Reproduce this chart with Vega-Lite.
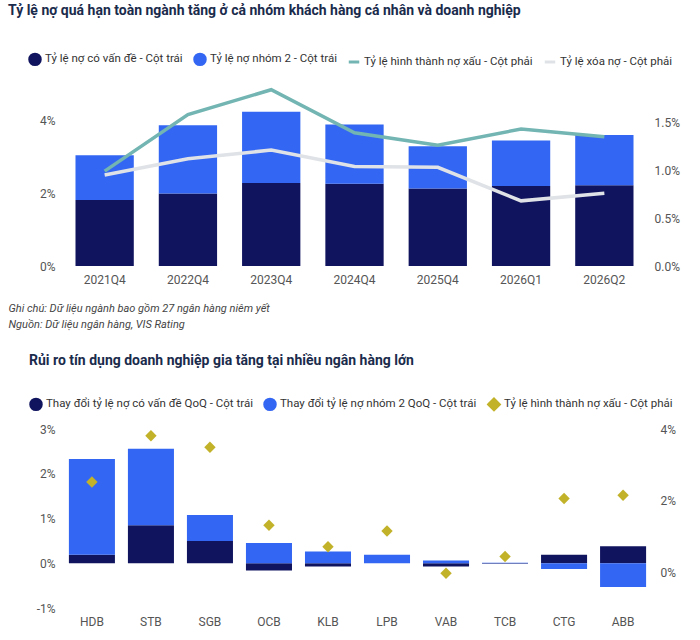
{
  "$schema": "https://vega.github.io/schema/vega-lite/v6.json",
  "background": "white",
  "padding": {"left": 8, "top": 4, "right": 6, "bottom": 4},
  "config": {
    "view": {"stroke": null},
    "font": "Roboto",
    "axis": {"grid": false, "domain": false, "ticks": false, "labelFont": "Roboto", "labelFontSize": 12, "labelColor": "#555", "labelPadding": 8},
    "legend": {"labelFont": "Roboto", "labelFontSize": 11.5, "labelColor": "#333", "labelLimit": 0, "symbolSize": 110, "symbolStrokeWidth": 3, "columnPadding": 5, "labelOffset": 3, "symbolOpacity": 1}
  },
  "spacing": 25,
  "resolve": {"scale": {"color": "independent", "shape": "independent"}, "legend": {"color": "independent", "shape": "independent"}},
  "vconcat": [
    {
      "width": 583, "height": 182,
      "title": {"text": "Tỷ lệ nợ quá hạn toàn ngành tăng ở cả nhóm khách hàng cá nhân và doanh nghiệp", "anchor": "start", "frame": "bounds", "fontSize": 14, "fontWeight": "bold", "color": "#1a2b4c", "offset": 34},
      "data": {"values": [
        {"q": "2021Q4", "s": "Tỷ lệ nợ có vấn đề - Cột trái", "t": "bar", "o": 0, "v": 1.81},
        {"q": "2022Q4", "s": "Tỷ lệ nợ có vấn đề - Cột trái", "t": "bar", "o": 0, "v": 1.99},
        {"q": "2023Q4", "s": "Tỷ lệ nợ có vấn đề - Cột trái", "t": "bar", "o": 0, "v": 2.28},
        {"q": "2024Q4", "s": "Tỷ lệ nợ có vấn đề - Cột trái", "t": "bar", "o": 0, "v": 2.26},
        {"q": "2025Q4", "s": "Tỷ lệ nợ có vấn đề - Cột trái", "t": "bar", "o": 0, "v": 2.13},
        {"q": "2026Q1", "s": "Tỷ lệ nợ có vấn đề - Cột trái", "t": "bar", "o": 0, "v": 2.20},
        {"q": "2026Q2", "s": "Tỷ lệ nợ có vấn đề - Cột trái", "t": "bar", "o": 0, "v": 2.22},
        {"q": "2021Q4", "s": "Tỷ lệ nợ nhóm 2 - Cột trái", "t": "bar", "o": 1, "v": 1.23},
        {"q": "2022Q4", "s": "Tỷ lệ nợ nhóm 2 - Cột trái", "t": "bar", "o": 1, "v": 1.88},
        {"q": "2023Q4", "s": "Tỷ lệ nợ nhóm 2 - Cột trái", "t": "bar", "o": 1, "v": 1.96},
        {"q": "2024Q4", "s": "Tỷ lệ nợ nhóm 2 - Cột trái", "t": "bar", "o": 1, "v": 1.63},
        {"q": "2025Q4", "s": "Tỷ lệ nợ nhóm 2 - Cột trái", "t": "bar", "o": 1, "v": 1.16},
        {"q": "2026Q1", "s": "Tỷ lệ nợ nhóm 2 - Cột trái", "t": "bar", "o": 1, "v": 1.25},
        {"q": "2026Q2", "s": "Tỷ lệ nợ nhóm 2 - Cột trái", "t": "bar", "o": 1, "v": 1.38},
        {"q": "2021Q4", "s": "Tỷ lệ hình thành nợ xấu - Cột phải", "t": "line", "o": 2, "v": 0.99},
        {"q": "2022Q4", "s": "Tỷ lệ hình thành nợ xấu - Cột phải", "t": "line", "o": 2, "v": 1.58},
        {"q": "2023Q4", "s": "Tỷ lệ hình thành nợ xấu - Cột phải", "t": "line", "o": 2, "v": 1.84},
        {"q": "2024Q4", "s": "Tỷ lệ hình thành nợ xấu - Cột phải", "t": "line", "o": 2, "v": 1.39},
        {"q": "2025Q4", "s": "Tỷ lệ hình thành nợ xấu - Cột phải", "t": "line", "o": 2, "v": 1.26},
        {"q": "2026Q1", "s": "Tỷ lệ hình thành nợ xấu - Cột phải", "t": "line", "o": 2, "v": 1.43},
        {"q": "2026Q2", "s": "Tỷ lệ hình thành nợ xấu - Cột phải", "t": "line", "o": 2, "v": 1.35},
        {"q": "2021Q4", "s": "Tỷ lệ xóa nợ - Cột phải", "t": "line", "o": 3, "v": 0.95},
        {"q": "2022Q4", "s": "Tỷ lệ xóa nợ - Cột phải", "t": "line", "o": 3, "v": 1.12},
        {"q": "2023Q4", "s": "Tỷ lệ xóa nợ - Cột phải", "t": "line", "o": 3, "v": 1.21},
        {"q": "2024Q4", "s": "Tỷ lệ xóa nợ - Cột phải", "t": "line", "o": 3, "v": 1.04},
        {"q": "2025Q4", "s": "Tỷ lệ xóa nợ - Cột phải", "t": "line", "o": 3, "v": 1.03},
        {"q": "2026Q1", "s": "Tỷ lệ xóa nợ - Cột phải", "t": "line", "o": 3, "v": 0.68},
        {"q": "2026Q2", "s": "Tỷ lệ xóa nợ - Cột phải", "t": "line", "o": 3, "v": 0.76}
      ]},
      "encoding": {
        "x": {"field": "q", "type": "nominal", "sort": null,
          "scale": {"paddingInner": 0.3, "paddingOuter": 0.15},
          "axis": {"labelAngle": 0, "title": ["Ghi chú: Dữ liệu ngành bao gồm 27 ngân hàng niêm yết", "Nguồn: Dữ liệu ngân hàng, VIS Rating"],
            "titleFontStyle": "italic", "titleFontWeight": "normal", "titleFontSize": 11, "titleColor": "#444", "titleAnchor": "start", "titleAlign": "left", "titleX": -55, "titleY": 36, "titleBaseline": "top", "titleLineHeight": 16}}
      },
      "layer": [
        {
          "transform": [{"filter": "datum.t == 'bar'"}],
          "mark": {"type": "bar"},
          "encoding": {
            "y": {"field": "v", "type": "quantitative", "stack": "zero", "scale": {"domain": [0, 5]},
              "axis": {"values": [0, 2, 4], "title": null, "labelExpr": "datum.value + '%'"}},
            "color": {"field": "s", "type": "nominal", "sort": null,
              "scale": {"domain": ["Tỷ lệ nợ có vấn đề - Cột trái", "Tỷ lệ nợ nhóm 2 - Cột trái", "Tỷ lệ hình thành nợ xấu - Cột phải", "Tỷ lệ xóa nợ - Cột phải"], "range": ["#10145e", "#3366f2", "#72b5b2", "#dfe2e6"]},
              "legend": {"title": null, "orient": "none", "direction": "horizontal", "legendX": -35, "legendY": -32}},
            "order": {"field": "o"}
          }
        },
        {
          "transform": [{"filter": "datum.t == 'line'"}],
          "mark": {"type": "line", "strokeWidth": 3.5},
          "encoding": {
            "y": {"field": "v", "type": "quantitative", "scale": {"domain": [0, 1.9]},
              "axis": {"orient": "right", "values": [0, 0.5, 1, 1.5], "title": null, "labelExpr": "format(datum.value, '.1f') + '%'"}},
            "color": {"field": "s", "type": "nominal", "sort": null}
          }
        },
        {
          "mark": {"type": "point", "opacity": 0},
          "encoding": {
            "color": {"field": "s", "type": "nominal", "sort": null},
            "shape": {"field": "s", "type": "nominal", "sort": null,
              "scale": {"domain": ["Tỷ lệ nợ có vấn đề - Cột trái", "Tỷ lệ nợ nhóm 2 - Cột trái", "Tỷ lệ hình thành nợ xấu - Cột phải", "Tỷ lệ xóa nợ - Cột phải"], "range": ["circle", "circle", "stroke", "stroke"]},
              "legend": {"title": null}}
          }
        }
      ],
      "resolve": {"scale": {"y": "independent"}}
    },
    {
      "width": 589, "height": 179,
      "title": {"text": "Rủi ro tín dụng doanh nghiệp gia tăng tại nhiều ngân hàng lớn", "anchor": "start", "frame": "bounds", "fontSize": 14, "fontWeight": "bold", "color": "#1a2b4c", "offset": 29},
      "data": {"values": [
        {"b": "HDB", "s": "Thay đổi tỷ lệ nợ có vấn đề QoQ - Cột trái", "t": "bar", "o": 0, "v": 0.19},
        {"b": "STB", "s": "Thay đổi tỷ lệ nợ có vấn đề QoQ - Cột trái", "t": "bar", "o": 0, "v": 0.85},
        {"b": "SGB", "s": "Thay đổi tỷ lệ nợ có vấn đề QoQ - Cột trái", "t": "bar", "o": 0, "v": 0.50},
        {"b": "OCB", "s": "Thay đổi tỷ lệ nợ có vấn đề QoQ - Cột trái", "t": "bar", "o": 0, "v": -0.16},
        {"b": "KLB", "s": "Thay đổi tỷ lệ nợ có vấn đề QoQ - Cột trái", "t": "bar", "o": 0, "v": -0.07},
        {"b": "LPB", "s": "Thay đổi tỷ lệ nợ có vấn đề QoQ - Cột trái", "t": "bar", "o": 0, "v": 0.0},
        {"b": "VAB", "s": "Thay đổi tỷ lệ nợ có vấn đề QoQ - Cột trái", "t": "bar", "o": 0, "v": -0.07},
        {"b": "TCB", "s": "Thay đổi tỷ lệ nợ có vấn đề QoQ - Cột trái", "t": "bar", "o": 0, "v": -0.01},
        {"b": "CTG", "s": "Thay đổi tỷ lệ nợ có vấn đề QoQ - Cột trái", "t": "bar", "o": 0, "v": 0.19},
        {"b": "ABB", "s": "Thay đổi tỷ lệ nợ có vấn đề QoQ - Cột trái", "t": "bar", "o": 0, "v": 0.38},
        {"b": "HDB", "s": "Thay đổi tỷ lệ nợ nhóm 2 QoQ - Cột trái", "t": "bar", "o": 1, "v": 2.14},
        {"b": "STB", "s": "Thay đổi tỷ lệ nợ nhóm 2 QoQ - Cột trái", "t": "bar", "o": 1, "v": 1.71},
        {"b": "SGB", "s": "Thay đổi tỷ lệ nợ nhóm 2 QoQ - Cột trái", "t": "bar", "o": 1, "v": 0.58},
        {"b": "OCB", "s": "Thay đổi tỷ lệ nợ nhóm 2 QoQ - Cột trái", "t": "bar", "o": 1, "v": 0.45},
        {"b": "KLB", "s": "Thay đổi tỷ lệ nợ nhóm 2 QoQ - Cột trái", "t": "bar", "o": 1, "v": 0.26},
        {"b": "LPB", "s": "Thay đổi tỷ lệ nợ nhóm 2 QoQ - Cột trái", "t": "bar", "o": 1, "v": 0.19},
        {"b": "VAB", "s": "Thay đổi tỷ lệ nợ nhóm 2 QoQ - Cột trái", "t": "bar", "o": 1, "v": 0.06},
        {"b": "TCB", "s": "Thay đổi tỷ lệ nợ nhóm 2 QoQ - Cột trái", "t": "bar", "o": 1, "v": 0.01},
        {"b": "CTG", "s": "Thay đổi tỷ lệ nợ nhóm 2 QoQ - Cột trái", "t": "bar", "o": 1, "v": -0.13},
        {"b": "ABB", "s": "Thay đổi tỷ lệ nợ nhóm 2 QoQ - Cột trái", "t": "bar", "o": 1, "v": -0.53},
        {"b": "HDB", "s": "Tỷ lệ hình thành nợ xấu - Cột phải", "t": "pt", "o": 2, "v": 2.52},
        {"b": "STB", "s": "Tỷ lệ hình thành nợ xấu - Cột phải", "t": "pt", "o": 2, "v": 3.81},
        {"b": "SGB", "s": "Tỷ lệ hình thành nợ xấu - Cột phải", "t": "pt", "o": 2, "v": 3.49},
        {"b": "OCB", "s": "Tỷ lệ hình thành nợ xấu - Cột phải", "t": "pt", "o": 2, "v": 1.31},
        {"b": "KLB", "s": "Tỷ lệ hình thành nợ xấu - Cột phải", "t": "pt", "o": 2, "v": 0.71},
        {"b": "LPB", "s": "Tỷ lệ hình thành nợ xấu - Cột phải", "t": "pt", "o": 2, "v": 1.15},
        {"b": "VAB", "s": "Tỷ lệ hình thành nợ xấu - Cột phải", "t": "pt", "o": 2, "v": -0.03},
        {"b": "TCB", "s": "Tỷ lệ hình thành nợ xấu - Cột phải", "t": "pt", "o": 2, "v": 0.44},
        {"b": "CTG", "s": "Tỷ lệ hình thành nợ xấu - Cột phải", "t": "pt", "o": 2, "v": 2.06},
        {"b": "ABB", "s": "Tỷ lệ hình thành nợ xấu - Cột phải", "t": "pt", "o": 2, "v": 2.15}
      ]},
      "encoding": {
        "x": {"field": "b", "type": "nominal", "sort": null,
          "scale": {"paddingInner": 0.22, "paddingOuter": 0.1},
          "axis": {"labelAngle": 0, "title": null}}
      },
      "layer": [
        {
          "transform": [{"filter": "datum.t == 'bar'"}],
          "mark": {"type": "bar"},
          "encoding": {
            "y": {"field": "v", "type": "quantitative", "stack": "zero", "scale": {"domain": [-1, 3], "nice": false},
              "axis": {"values": [-1, 0, 1, 2, 3], "title": null, "labelExpr": "datum.value + '%'"}},
            "color": {"field": "s", "type": "nominal", "sort": null,
              "scale": {"domain": ["Thay đổi tỷ lệ nợ có vấn đề QoQ - Cột trái", "Thay đổi tỷ lệ nợ nhóm 2 QoQ - Cột trái", "Tỷ lệ hình thành nợ xấu - Cột phải"], "range": ["#10145e", "#3366f2", "#c2b22a"]},
              "legend": {"title": null, "orient": "none", "direction": "horizontal", "legendX": -34, "legendY": -32}},
            "order": {"field": "o"}
          }
        },
        {
          "transform": [{"filter": "datum.t == 'pt'"}],
          "mark": {"type": "point", "shape": "diamond", "filled": true, "size": 130, "opacity": 1},
          "encoding": {
            "y": {"field": "v", "type": "quantitative", "scale": {"domain": [-1, 4], "nice": false},
              "axis": {"orient": "right", "values": [0, 2, 4], "title": null, "labelExpr": "datum.value + '%'"}},
            "color": {"field": "s", "type": "nominal", "sort": null}
          }
        },
        {
          "mark": {"type": "point", "opacity": 0},
          "encoding": {
            "color": {"field": "s", "type": "nominal", "sort": null},
            "shape": {"field": "s", "type": "nominal", "sort": null,
              "scale": {"domain": ["Thay đổi tỷ lệ nợ có vấn đề QoQ - Cột trái", "Thay đổi tỷ lệ nợ nhóm 2 QoQ - Cột trái", "Tỷ lệ hình thành nợ xấu - Cột phải"], "range": ["circle", "circle", "diamond"]},
              "legend": {"title": null}}
          }
        }
      ],
      "resolve": {"scale": {"y": "independent"}}
    }
  ]
}
